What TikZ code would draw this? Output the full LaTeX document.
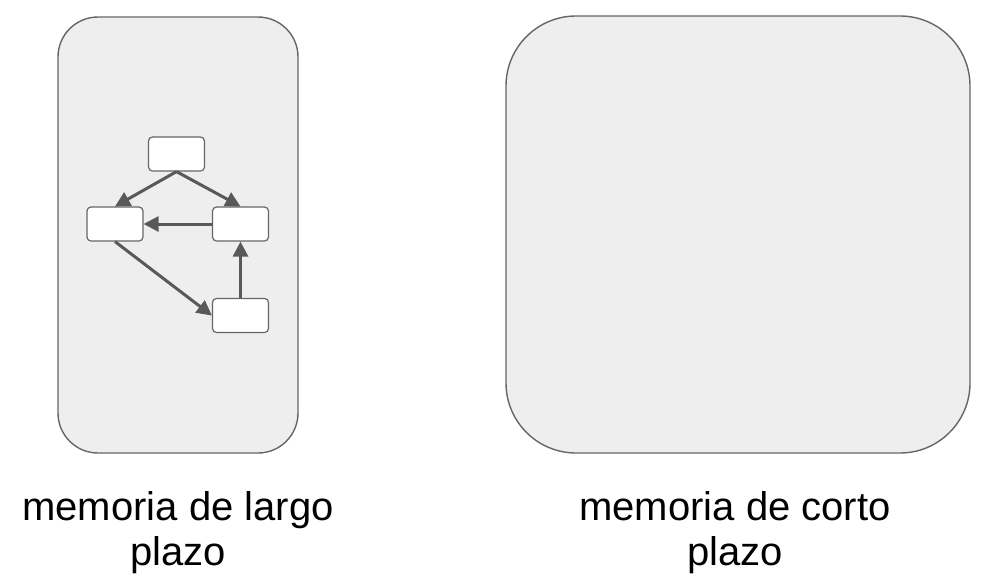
\documentclass[tikz,border=0pt]{standalone}
\usepackage{fontspec}
\setmainfont{Liberation Sans}
\usetikzlibrary{arrows.meta}
\definecolor{boxfill}{HTML}{EEEEEE}
\definecolor{boxline}{HTML}{666666}
\definecolor{arr}{HTML}{595959}
\tikzset{
  membox/.style={draw=boxline, fill=boxfill, line width=1.4pt},
  smallbox/.style={draw=boxline, fill=white, line width=1.2pt, rounded corners=4pt, minimum width=56pt, minimum height=34pt, inner sep=0pt},
  conn/.style={draw=arr, line width=3pt, -{Triangle[length=15pt,width=15pt]}, shorten >=0pt},
  lbl/.style={font=\fontsize{40}{45}\selectfont, align=center, inner sep=0pt}
}
\begin{document}
\begin{tikzpicture}[x=1pt,y=-1pt]
\useasboundingbox (0,0) rectangle (1008,576);
\draw[membox, rounded corners=40pt] (58,17) rectangle (298,453);
\draw[membox, rounded corners=70pt] (506,16) rectangle (970,453);
\node[smallbox] (t) at (176.5,154) {};
\node[smallbox] (l) at (115,224) {};
\node[smallbox] (r) at (240.5,224) {};
\node[smallbox] (b) at (240.5,315.5) {};
\draw[conn] (t.south) -- (l.north);
\draw[conn] (t.south) -- (r.north);
\draw[conn] (r.west) -- (l.east);
\draw[conn] (l.south) -- (b.west);
\draw[conn] (b.north) -- (r.south);
\node[lbl, anchor=base] (lt) at (178,565) {memoria de largo\\plazo};
\node[lbl, anchor=base] (rt) at (735,565) {memoria de corto\\plazo};
\end{tikzpicture}
\end{document}
